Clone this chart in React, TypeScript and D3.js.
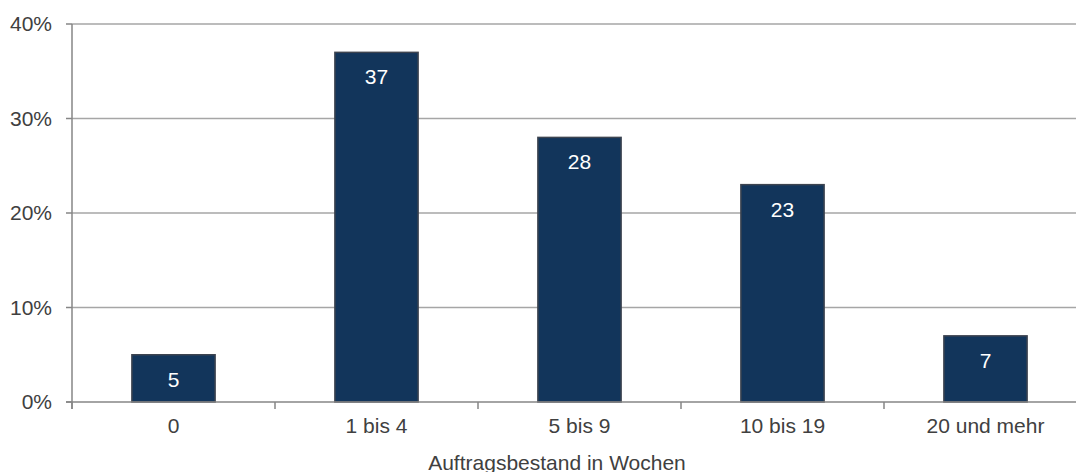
import React from "react";
import * as d3 from "d3";

const categories = ["0", "1 bis 4", "5 bis 9", "10 bis 19", "20 und mehr"];
const values = [5, 37, 28, 23, 7];
const yTicks = [0, 10, 20, 30, 40];
const xTitle = "Auftragsbestand in Wochen";

const W = 1076;
const H = 472;

export default function App() {
  const x = d3.scaleBand<string>().domain(categories).range([72, 1087]).paddingInner(0.59).paddingOuter(0.295);
  const xb = d3.scaleBand<string>().domain(categories).range([72, 1087]);
  const y = d3.scaleLinear().domain([0, 40]).range([402, 24]);
  const font = "'Liberation Sans', Arial, sans-serif";
  return (
    <svg width={W} height={H} style={{ position: "absolute", left: 0, top: 0, background: "#fff" }} fontFamily={font}>
      {yTicks.map((t) => (
        <g key={t}>
          {t > 0 && <line x1={72} x2={1090} y1={y(t)} y2={y(t)} stroke="#a6a6a6" strokeWidth={1.5} />}
          <line x1={66} x2={72} y1={y(t)} y2={y(t)} stroke="#868686" strokeWidth={1.5} />
          <text x={52} y={y(t)} dy="0.35em" textAnchor="end" fontSize={21} fill="#404040">{t}%</text>
        </g>
      ))}
      {categories.map((c, i) => (
        <g key={c}>
          <rect x={x(c)!} y={y(values[i])} width={x.bandwidth()} height={y(0) - y(values[i])} fill="#12355b" stroke="#3d4450" strokeWidth={1.5} />
          <text x={x(c)! + x.bandwidth() / 2} y={y(values[i]) + 32} textAnchor="middle" fontSize={21} fill="#fff">{values[i]}</text>
          <text x={xb(c)! + xb.bandwidth() / 2} y={433} textAnchor="middle" fontSize={21} fill="#404040">{c}</text>
        </g>
      ))}
      {categories.map((c) => (
        <line key={"t" + c} x1={xb(c)!} x2={xb(c)!} y1={402} y2={409} stroke="#868686" strokeWidth={1.5} />
      ))}
      <line x1={72} x2={72} y1={24} y2={409} stroke="#868686" strokeWidth={1.5} />
      <line x1={66} x2={1090} y1={402} y2={402} stroke="#868686" strokeWidth={1.5} />
      <text x={557} y={470} textAnchor="middle" fontSize={21} fill="#404040">{xTitle}</text>
    </svg>
  );
}
